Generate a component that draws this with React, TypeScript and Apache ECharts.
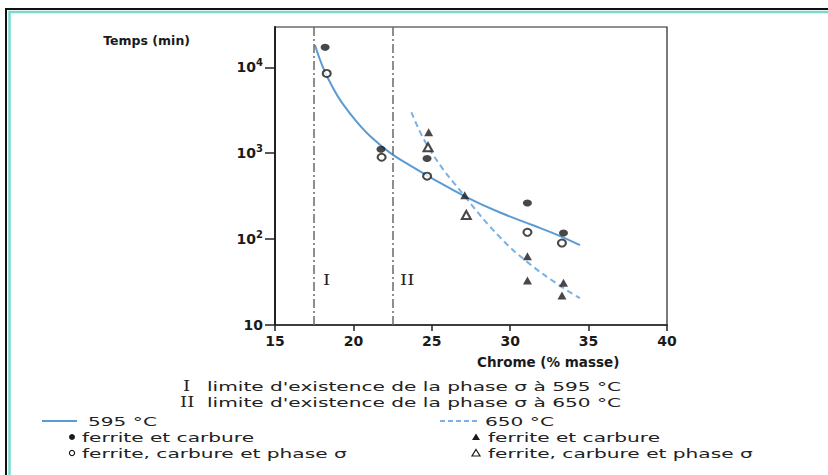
import React, { useEffect, useRef } from "react";
import * as echarts from "echarts";

// ---------- data ----------
const xMin = 15;
const xMax = 40;
const xStep = 5;
const yMin = 10;
const yMax = 29500;
const yTickValues = [10, 100, 1000, 10000];
const yTickLabels = ["10", "10{s|2}", "10{s|3}", "10{s|4}"];

const limitI = 17.5;
const limitII = 22.5;

// 595 °C
const f595Carbide = [[18.2, 17100], [21.76, 1115], [24.7, 870], [31.1, 263], [33.4, 118]];
const f595Sigma = [[18.3, 8500], [21.8, 898], [24.7, 541], [31.1, 120], [33.3, 90]];
const curve595 = [[17.55, 18200], [18.06, 10000], [18.7, 5750], [19.3, 3800], [20.2, 2340], [21.06, 1585], [22.3, 1023], [23.5, 741], [25.1, 501], [27.2, 309], [29.35, 204], [31.45, 145], [33, 112], [34.45, 85]];

// 650 °C
const f650Carbide = [[24.8, 1750], [27.1, 325], [31.1, 63], [31.1, 33], [33.4, 31], [33.3, 22]];
const f650Sigma = [[24.76, 1175], [27.2, 191]];
const curve650 = [[23.7, 3000], [24.9, 1080], [27.2, 300], [29.35, 105], [31.1, 54], [33.3, 27.6], [34.45, 20.6]];

const yName = "Temps (min)";
const xName = "Chrome (% masse)";
const limitLabels = ["I", "II"];
const noteI = "limite d'existence de la phase σ à 595 °C";
const noteII = "limite d'existence de la phase σ à 650 °C";
const t595 = "595 °C";
const t650 = "650 °C";
const tCarb = "ferrite et carbure";
const tSigma = "ferrite, carbure et phase σ";

const BLUE = "#5b9bd5";
const BLUE2 = "#7cb0e2";
const INK = "#1a1a1a";
const FONT = "DejaVu Sans";

export default function App() {
  const ref = useRef<HTMLDivElement>(null);
  useEffect(() => {
    document.body.style.margin = "0";
    const chart = echarts.init(ref.current!, null, { renderer: "svg" });
    const SX = 1.55;
    const txt = (text: string, x: number, y: number, size = 13, family = FONT, sx = SX, weight = "normal") => ({
      type: "text",
      x,
      y,
      scaleX: sx,
      style: { text, fontSize: size, fontFamily: family, fontWeight: weight, fill: "#222", verticalAlign: "middle", align: "left" },
    });
    const tri = (cx: number, cy: number, filled: boolean) => ({
      type: "polygon",
      shape: { points: [[cx, cy - 3.5], [cx + 4, cy + 3], [cx - 4, cy + 3]] },
      style: filled ? { fill: INK } : { fill: "#fff", stroke: INK, lineWidth: 1.2 },
    });
    chart.setOption({
      animation: false,
      backgroundColor: "#fff",
      grid: { left: 275, right: 161, top: 27, bottom: 150, show: true, borderColor: "#222", borderWidth: 1.2, backgroundColor: "transparent" },
      xAxis: {
        type: "value",
        min: xMin,
        max: xMax,
        interval: xStep,
        name: xName,
        nameLocation: "middle",
        nameGap: 30,
        nameTextStyle: { align: "left", padding: [0, 0, 0, 6], fontSize: 13.5, fontFamily: FONT, fontWeight: "bold", color: INK },
        axisLine: { lineStyle: { color: "#222", width: 1.5 } },
        axisTick: { length: 6, lineStyle: { color: "#222", width: 1.5 } },
        axisLabel: { margin: 9, fontSize: 14, fontFamily: FONT, fontWeight: "bold", color: INK },
        splitLine: { show: false },
      },
      yAxis: {
        type: "log",
        logBase: 10,
        min: yMin,
        max: yMax,
        name: yName,
        nameLocation: "end",
        nameGap: -13,
        nameTextStyle: { align: "right", verticalAlign: "middle", padding: [0, 85, 0, 0], fontSize: 12.5, fontFamily: FONT, fontWeight: "bold", color: INK },
        axisLine: { lineStyle: { color: "#222", width: 2 } },
        axisTick: { length: 10, customValues: yTickValues, lineStyle: { color: "#222", width: 1.5 } },
        axisLabel: {
          customValues: yTickValues,
          margin: 12,
          fontSize: 14,
          fontFamily: FONT,
          fontWeight: "bold",
          color: INK,
          formatter: (v: number) => {
            const e = Math.round(Math.log10(v));
            return yTickLabels[e - 1] ?? "";
          },
          rich: { s: { fontSize: 10, fontFamily: FONT, fontWeight: "bold", color: INK, verticalAlign: "top", padding: [0, 0, 9, 0] } },
        },
        splitLine: { show: false },
        minorTick: { show: false },
      },
      series: [
        {
          name: t595,
          type: "line",
          data: curve595,
          smooth: 0.4,
          showSymbol: false,
          lineStyle: { color: BLUE, width: 2 },
          z: 2,
          markLine: {
            silent: true,
            symbol: ["none", "none"],
            label: { show: false },
            lineStyle: { color: "#6a6a6a", type: [9, 3, 2, 3], width: 1.5 },
            data: [{ xAxis: limitI }, { xAxis: limitII }],
          },
        },
        {
          name: t650,
          type: "line",
          data: curve650,
          smooth: 0.45,
          showSymbol: false,
          lineStyle: { color: BLUE2, width: 2, type: [6, 4] },
          z: 2,
        },
        { name: "595 " + tCarb, type: "scatter", data: f595Carbide, symbol: "circle", symbolSize: [9, 7], itemStyle: { color: INK }, z: 3 },
        { name: "595 " + tSigma, type: "scatter", data: f595Sigma, symbol: "emptyCircle", symbolSize: [8, 7], itemStyle: { color: INK, borderWidth: 1.3 }, z: 3 },
        { name: "650 " + tCarb, type: "scatter", data: f650Carbide, symbol: "triangle", symbolSize: [9, 8], itemStyle: { color: INK }, z: 3 },
        { name: "650 " + tSigma, type: "scatter", data: f650Sigma, symbol: "emptyTriangle", symbolSize: [9, 8], itemStyle: { color: INK, borderWidth: 1.2 }, z: 3 },
      ],
      graphic: [
        // frame
        { type: "rect", shape: { x: 6, y: 9, width: 900, height: 600 }, style: { fill: "none", stroke: "#111", lineWidth: 2 } },
        { type: "rect", shape: { x: 9.5, y: 12, width: 900, height: 600 }, style: { fill: "none", stroke: "#79d9d2", lineWidth: 2.5 } },
        // limit labels
        txt(limitLabels[0], 323, 280, 14, "DejaVu Serif", 1.3),
        txt(limitLabels[1], 400, 280, 14, "DejaVu Serif", 1.3),
        // notes
        txt(limitLabels[0], 183, 386, 14, "DejaVu Serif", 1.3),
        txt(noteI, 207, 386),
        txt(limitLabels[1], 180, 402, 14, "DejaVu Serif", 1.3),
        txt(noteII, 207, 402),
        // legend left
        { type: "line", shape: { x1: 42, y1: 421, x2: 77, y2: 421 }, style: { stroke: BLUE, lineWidth: 2 } },
        txt(t595, 88, 421),
        { type: "circle", shape: { cx: 72, cy: 437, r: 3 }, style: { fill: INK } },
        txt(tCarb, 82, 437),
        { type: "circle", shape: { cx: 72, cy: 453, r: 2.6 }, style: { fill: "#fff", stroke: INK, lineWidth: 1.2 } },
        txt(tSigma, 82, 453),
        // legend right
        { type: "line", shape: { x1: 440, y1: 421, x2: 478, y2: 421 }, style: { stroke: BLUE2, lineWidth: 2, lineDash: [5, 3] } },
        txt(t650, 485, 421),
        tri(476, 437, true),
        txt(tCarb, 488, 437),
        tri(476, 453, false),
        txt(tSigma, 488, 453),
      ],
    });
    return () => chart.dispose();
  }, []);
  return <div ref={ref} style={{ position: "fixed", left: 0, top: 0, width: 828, height: 475 }} />;
}
